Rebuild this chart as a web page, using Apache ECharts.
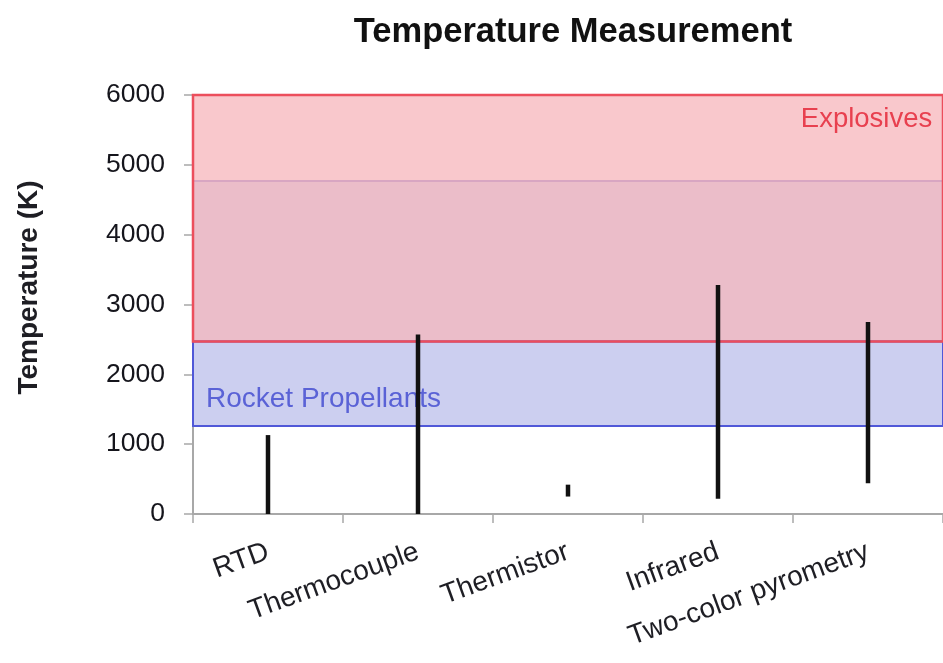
<!DOCTYPE html>
<html>
<head>
<meta charset="utf-8">
<title>Temperature Measurement</title>
<script src="https://cdn.jsdelivr.net/npm/echarts@6/dist/echarts.min.js"></script>
<style>
  html, body { margin: 0; padding: 0; background: #ffffff; }
  #chart { width: 943px; height: 663px; }
</style>
</head>
<body>
<div id="chart"></div>
<script>
// Sensor types and the temperature span (K) each one covers
const categories = ['RTD', 'Thermocouple', 'Thermistor', 'Infrared', 'Two-color pyrometry'];
const rangeLow  = [0,    0,    250, 220,  440];
const rangeHigh = [1130, 2570, 420, 3280, 2750];

// Y axis ticks (K)
const yTicks = [0, 1000, 2000, 3000, 4000, 5000, 6000];

// Application bands (K)
const rocketBand = [1260, 4770];
const explosivesBand = [2470, 6000];

const FONT = '"Liberation Sans", Arial, sans-serif';
const TEXT = '#1e1e24';

const chart = echarts.init(document.getElementById('chart'), null, { renderer: 'canvas' });

const rangeData = categories.map((c, i) => [i, rangeLow[i], rangeHigh[i]]);

chart.setOption({
  animation: false,
  backgroundColor: '#ffffff',
  title: {
    text: 'Temperature Measurement',
    left: 568,
    top: 10,
    textAlign: 'center',
    textStyle: { fontFamily: FONT, fontSize: 34.5, fontWeight: 'bold', color: '#111' }
  },
  grid: { left: 193, width: 755, top: 95, bottom: 149, containLabel: false },
  xAxis: {
    type: 'category',
    data: categories,
    boundaryGap: true,
    axisLine: { lineStyle: { color: '#a8a8a8', width: 2 } },
    axisTick: { show: true, length: 9, alignWithLabel: false, lineStyle: { color: '#a8a8a8', width: 1.5 } },
    axisLabel: {
      rotate: 20,
      interval: 0,
      margin: 37,
      fontFamily: FONT,
      fontSize: 28,
      color: TEXT
    },
    splitLine: { show: false }
  },
  yAxis: {
    type: 'value',
    min: yTicks[0],
    max: yTicks[yTicks.length - 1],
    interval: 1000,
    name: 'Temperature (K)',
    nameLocation: 'middle',
    nameRotate: 90,
    nameGap: 150,
    nameTextStyle: {
      fontFamily: FONT, fontSize: 28, fontWeight: 'bold', color: TEXT,
      padding: [0, 0, 0, 34]
    },
    axisLine: { show: true, lineStyle: { color: '#a8a8a8', width: 2 } },
    axisTick: { show: true, inside: false, length: 9, lineStyle: { color: '#a8a8a8', width: 1.5 } },
    axisLabel: {
      margin: 28, fontFamily: FONT, fontSize: 26.5, color: '#15151c',
      formatter: function (v) { return String(v); }
    },
    splitLine: { show: false }
  },
  series: [
    {
      // shaded application bands
      type: 'line',
      data: [],
      silent: true,
      z: 1,
      markArea: {
        silent: true,
        data: [
          [
            { yAxis: explosivesBand[0], itemStyle: { color: '#f9c8cc', borderWidth: 0 } },
            { yAxis: explosivesBand[1] }
          ],
          [
            { yAxis: explosivesBand[0], itemStyle: { color: '#ebbdc9', borderColor: '#d8a6c2', borderWidth: 2 } },
            { yAxis: rocketBand[1] }
          ],
          [
            {
              yAxis: rocketBand[0],
              itemStyle: { color: '#cccff0', borderColor: '#5058d8', borderWidth: 2 },
              label: {
                show: true,
                position: 'insideBottomLeft',
                distance: 14,
                formatter: 'Rocket Propellants',
                fontFamily: FONT,
                fontSize: 28,
                color: '#5a62d6'
              }
            },
            { yAxis: explosivesBand[0] }
          ],
          [
            {
              yAxis: explosivesBand[0],
              itemStyle: { color: 'rgba(0,0,0,0)', borderColor: '#ec4e5c', borderWidth: 2.5 },
              label: {
                show: true,
                position: 'insideTopRight',
                distance: 12,
                offset: [0, 0],
                formatter: 'Explosives',
                fontFamily: FONT,
                fontSize: 27.5,
                color: '#e8404f'
              }
            },
            { yAxis: explosivesBand[1] }
          ]
        ]
      }
    },
    {
      // measurement span for each sensor type
      type: 'custom',
      z: 5,
      data: rangeData,
      encode: { x: 0, y: [1, 2] },
      renderItem: function (params, api) {
        const idx = api.value(0);
        const lo = api.coord([idx, api.value(1)]);
        const hi = api.coord([idx, api.value(2)]);
        return {
          type: 'line',
          shape: { x1: lo[0], y1: lo[1], x2: hi[0], y2: hi[1] },
          style: { stroke: '#111111', lineWidth: 4.5 }
        };
      }
    }
  ]
});
</script>
</body>
</html>
